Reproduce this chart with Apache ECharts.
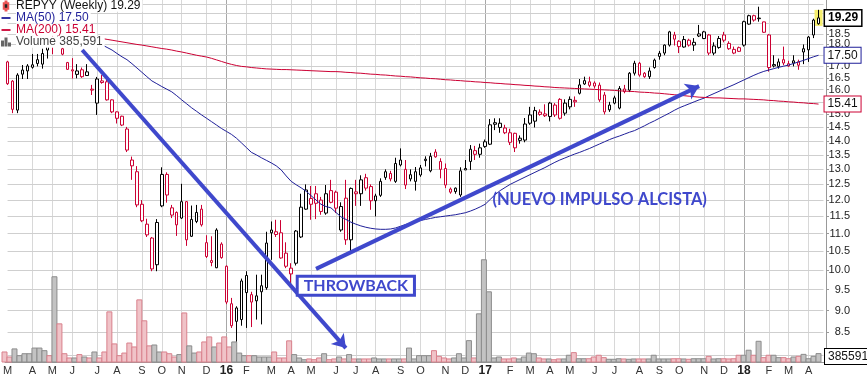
<!DOCTYPE html>
<html>
<head>
<meta charset="utf-8">
<script src="https://cdn.jsdelivr.net/npm/echarts@6/dist/echarts.min.js"></script>
<style>
html, body { margin: 0; padding: 0; background: #fff; }
#main { width: 867px; height: 378px; }
</style>
</head>
<body>
<div id="main"></div>
<script>
// weekly bars, first week starts Monday 2015-03-02
var firstWeek = '2015-03-02';

var opens = [
  17.20, 16.36, 15.17, 16.84, 16.80, 16.96, 17.13, 17.10, 17.74, 18.08,
  18.00, 17.80, 17.17, 16.85, 16.65, 16.85, 16.76, 16.02, 15.45, 16.30,
  16.33, 15.58, 15.10, 14.93, 14.44, 13.12, 12.92, 11.87, 11.27, 10.87,
  10.14, 11.82, 12.83, 11.76, 11.62, 11.45, 11.95, 10.92, 11.35, 11.72,
  10.74, 10.25, 10.06, 10.70, 10.10, 9.16, 8.75, 8.79, 9.43, 9.38,
  9.35, 9.45, 9.55, 11.02, 10.97, 11.02, 10.45, 10.05, 10.18, 10.90,
  11.72, 11.87, 12.20, 12.00, 11.60, 12.30, 12.25, 11.10, 12.06, 10.82,
  12.20, 12.20, 12.72, 12.43, 11.98, 12.15, 12.73, 12.86, 12.60, 13.15,
  13.00, 12.68, 12.60, 12.81, 13.35, 12.95, 13.60, 13.27, 13.03, 12.35,
  12.38, 12.16, 13.03, 13.27, 13.52, 13.52, 13.80, 13.88, 14.68, 14.50,
  14.30, 14.30, 14.28, 14.10, 14.03, 14.66, 14.74, 15.09, 15.02, 14.92,
  15.37, 15.60, 15.05, 15.30, 15.50, 15.85, 16.38, 16.33, 16.28, 16.19,
  15.78, 15.18, 15.66, 15.25, 16.03, 15.98, 16.70, 17.14, 16.70, 16.55,
  16.95, 17.59, 17.60, 17.97, 18.45, 18.15, 17.88, 18.20, 17.97, 18.50,
  18.28, 18.45, 17.60, 17.86, 18.45, 18.05, 17.60, 17.85, 17.97, 18.98,
  19.40, 19.28, 19.09, 18.45, 17.08, 17.00, 17.30, 17.02, 17.25, 17.20,
  17.80, 17.75, 18.45, 19.00
];
var closes = [
  16.25, 15.20, 16.62, 16.66, 17.02, 17.07, 17.30, 17.58, 18.05, 18.00,
  18.20, 17.55, 16.87, 16.80, 16.80, 16.55, 16.60, 15.98, 16.45, 16.37,
  15.58, 15.10, 14.85, 14.59, 13.67, 13.32, 11.85, 11.37, 10.96, 10.03,
  11.32, 12.83, 12.16, 11.54, 11.25, 11.95, 10.82, 11.41, 11.62, 11.25,
  10.36, 10.20, 11.10, 10.33, 9.20, 8.65, 9.06, 9.72, 9.86, 9.20,
  9.23, 9.60, 10.73, 11.10, 11.05, 10.32, 10.10, 9.90, 11.07, 11.78,
  12.32, 12.05, 11.90, 11.65, 12.20, 11.93, 11.75, 11.80, 10.82, 12.37,
  12.26, 12.65, 12.38, 11.98, 12.13, 12.60, 12.92, 12.68, 13.20, 13.32,
  12.48, 12.82, 12.92, 13.05, 13.30, 13.45, 13.43, 13.00, 12.48, 12.25,
  12.27, 12.95, 12.98, 13.70, 13.65, 13.75, 13.97, 14.60, 14.62, 14.66,
  14.48, 13.95, 13.75, 14.02, 14.63, 14.98, 15.15, 15.00, 14.95, 15.45,
  14.98, 14.85, 15.45, 15.60, 15.56, 16.20, 16.24, 16.18, 16.15, 15.58,
  15.10, 15.37, 15.45, 16.05, 15.92, 16.70, 17.14, 16.62, 16.55, 16.80,
  17.28, 17.45, 17.97, 18.60, 18.25, 17.90, 18.23, 17.97, 18.10, 18.40,
  18.60, 17.60, 17.93, 18.28, 18.20, 17.80, 17.77, 17.68, 19.10, 19.40,
  19.18, 19.25, 18.58, 16.95, 17.02, 17.20, 17.15, 17.12, 17.15, 17.05,
  17.65, 18.35, 19.18, 19.29
];
var lows = [
  16.20, 15.05, 15.05, 16.45, 16.45, 16.90, 17.00, 16.90, 17.35, 17.55,
  17.90, 17.50, 16.85, 16.47, 16.48, 16.50, 16.58, 15.78, 14.98, 16.25,
  15.55, 15.05, 14.65, 14.55, 13.60, 12.65, 11.78, 11.33, 10.90, 9.97,
  9.97, 11.78, 11.92, 11.45, 10.93, 11.42, 10.65, 10.90, 11.30, 11.20,
  10.32, 10.10, 10.05, 10.30, 9.15, 8.60, 8.30, 8.65, 8.60, 8.62,
  8.79, 8.68, 9.50, 10.27, 10.90, 10.30, 10.05, 9.66, 10.12, 10.87,
  11.70, 11.40, 11.42, 11.55, 11.55, 11.90, 11.60, 11.05, 10.68, 10.50,
  11.82, 11.82, 12.30, 11.70, 11.50, 12.10, 12.65, 12.60, 12.55, 13.10,
  12.35, 12.60, 12.30, 12.75, 13.10, 12.90, 13.40, 12.70, 12.38, 12.20,
  12.20, 12.10, 12.98, 12.98, 13.32, 13.40, 13.75, 13.85, 14.40, 14.30,
  14.25, 13.85, 13.60, 13.90, 13.95, 14.60, 14.50, 14.95, 14.90, 14.73,
  14.90, 14.80, 14.95, 15.20, 15.30, 15.80, 16.20, 16.10, 16.05, 15.50,
  15.00, 15.10, 15.40, 15.20, 15.85, 15.90, 16.60, 16.55, 16.50, 16.45,
  16.90, 17.30, 17.50, 17.90, 17.95, 17.60, 17.85, 17.90, 17.70, 18.35,
  18.25, 17.50, 17.50, 17.80, 18.10, 17.75, 17.55, 17.65, 17.90, 18.95,
  19.10, 19.10, 18.55, 16.77, 16.95, 16.90, 17.05, 16.98, 17.00, 16.85,
  17.10, 17.20, 18.30, 18.95
];
var highs = [
  17.25, 16.40, 16.70, 17.06, 17.10, 17.56, 17.56, 17.80, 18.20, 18.40,
  18.45, 17.85, 17.20, 17.37, 17.10, 16.95, 17.10, 16.20, 16.54, 16.62,
  16.45, 15.60, 15.12, 14.95, 14.52, 13.44, 13.11, 12.00, 11.43, 10.90,
  11.42, 13.07, 12.90, 11.85, 11.65, 12.52, 11.97, 11.83, 11.85, 11.85,
  10.95, 10.92, 11.15, 10.75, 10.12, 9.30, 9.10, 9.78, 9.97, 9.45,
  9.88, 9.88, 11.05, 11.35, 11.40, 11.39, 10.75, 10.18, 11.10, 12.20,
  12.50, 12.45, 12.45, 12.10, 12.48, 12.65, 12.30, 11.93, 12.65, 12.40,
  12.65, 12.80, 12.85, 12.50, 12.20, 12.70, 13.00, 12.95, 13.40, 13.73,
  13.32, 13.00, 13.08, 13.15, 13.45, 13.57, 13.70, 13.38, 13.20, 12.40,
  12.40, 13.07, 13.32, 13.85, 13.82, 13.90, 14.05, 14.82, 14.85, 14.85,
  14.60, 14.45, 14.30, 14.20, 14.86, 15.30, 15.30, 15.20, 15.40, 15.50,
  15.45, 15.65, 15.60, 15.72, 15.72, 16.45, 16.55, 16.55, 16.35, 16.30,
  15.90, 15.50, 15.75, 16.15, 16.20, 16.75, 17.25, 17.20, 16.75, 16.95,
  17.35, 17.70, 18.00, 18.65, 18.60, 18.20, 18.40, 18.27, 18.30, 18.94,
  18.65, 18.50, 18.10, 18.40, 18.60, 18.15, 17.90, 17.90, 19.15, 19.45,
  19.45, 19.86, 19.10, 18.50, 17.50, 17.35, 17.90, 17.25, 17.50, 17.30,
  18.00, 18.40, 19.25, 19.70
];
var volumes = [
  460000, 230000, 600000, 290000, 380000, 380000, 640000, 640000, 520000, 290000,
  3910000, 1750000, 380000, 185000, 185000, 340000, 230000, 185000, 460000, 185000,
  460000, 2300000, 830000, 290000, 410000, 870000, 690000, 2850000, 1890000, 740000,
  780000, 460000, 460000, 380000, 230000, 340000, 2250000, 740000, 410000, 460000,
  920000, 1150000, 690000, 870000, 1150000, 690000, 920000, 410000, 290000, 290000,
  290000, 230000, 230000, 230000, 460000, 185000, 185000, 970000, 340000, 185000,
  105000, 140000, 105000, 185000, 380000, 105000, 140000, 230000, 140000, 340000,
  140000, 140000, 140000, 140000, 185000, 140000, 140000, 140000, 140000, 140000,
  140000, 640000, 140000, 290000, 290000, 290000, 520000, 260000, 185000, 140000,
  185000, 380000, 185000, 980000, 185000, 2210000, 4690000, 3220000, 185000, 230000,
  140000, 140000, 185000, 140000, 230000, 410000, 380000, 185000, 140000, 140000,
  105000, 140000, 140000, 310000, 430000, 150000, 150000, 150000, 230000, 310000,
  200000, 125000, 125000, 150000, 140000, 125000, 140000, 140000, 140000, 140000,
  310000, 140000, 140000, 140000, 150000, 150000, 140000, 125000, 150000, 150000,
  150000, 260000, 140000, 150000, 150000, 140000, 150000, 310000, 310000, 540000,
  310000, 950000, 200000, 310000, 310000, 200000, 200000, 150000, 230000, 260000,
  350000, 150000, 260000, 385591
];
var ma50 = [
  null, null, null, null, null, null, null, null, null, null, null, null, null, null, null, null,
  18.35, 18.23, 18.11, 17.98, 17.86, 17.74, 17.58, 17.43, 17.30, 17.12,
  16.93, 16.74, 16.55, 16.37, 16.25, 16.13, 16.02, 15.91, 15.75, 15.58,
  15.42, 15.26, 15.12, 14.98, 14.85, 14.72, 14.59, 14.46, 14.35, 14.24,
  14.10, 13.93, 13.76, 13.59, 13.50, 13.40, 13.31, 13.22, 13.12, 12.98,
  12.78, 12.60, 12.49, 12.39, 12.28, 12.14, 12.00, 11.87, 11.80, 11.76,
  11.62, 11.49, 11.41, 11.33, 11.27, 11.22, 11.18, 11.15, 11.13, 11.12,
  11.12, 11.13, 11.16, 11.21, 11.26, 11.30, 11.34, 11.38, 11.41, 11.44,
  11.47, 11.49, 11.51, 11.53, 11.55, 11.58, 11.61, 11.66, 11.72, 11.79,
  11.87, 12.02, 12.17, 12.30, 12.40, 12.50, 12.58, 12.66, 12.74, 12.82,
  12.90, 12.98, 13.06, 13.15, 13.24, 13.32, 13.39, 13.46, 13.53, 13.59,
  13.66, 13.73, 13.81, 13.89, 13.97, 14.05, 14.12, 14.18, 14.25, 14.32,
  14.38, 14.47, 14.56, 14.66, 14.75, 14.85, 14.95, 15.05, 15.16, 15.26,
  15.34, 15.42, 15.50, 15.58, 15.65, 15.75, 15.84, 15.93, 16.03, 16.12,
  16.21, 16.31, 16.41, 16.51, 16.61, 16.70, 16.78, 16.84, 16.90, 16.96,
  17.01, 17.06, 17.13, 17.20, 17.27, 17.35, 17.43, 17.50
];
var ma200 = [
  null, null, null, null, null, null, null, null, null, null, null, null, null, null, null, null,
  18.40, 18.36, 18.32, 18.28, 18.24, 18.20, 18.16, 18.12, 18.08, 18.04,
  18.00, 17.97, 17.93, 17.89, 17.85, 17.81, 17.78, 17.74, 17.69, 17.65,
  17.60, 17.55, 17.50, 17.46, 17.42, 17.36, 17.29, 17.22, 17.15, 17.09,
  17.04, 17.00, 16.98, 16.95, 16.93, 16.91, 16.89, 16.88, 16.87, 16.86,
  16.86, 16.85, 16.84, 16.83, 16.82, 16.81, 16.80, 16.79, 16.78, 16.77,
  16.77, 16.76, 16.74, 16.73, 16.71, 16.70, 16.68, 16.66, 16.65, 16.63,
  16.62, 16.60, 16.58, 16.57, 16.55, 16.54, 16.52, 16.50, 16.49, 16.47,
  16.46, 16.44, 16.42, 16.41, 16.39, 16.38, 16.36, 16.35, 16.33, 16.32,
  16.30, 16.29, 16.27, 16.26, 16.24, 16.23, 16.21, 16.20, 16.18, 16.17,
  16.15, 16.14, 16.12, 16.11, 16.09, 16.08, 16.07, 16.06, 16.05, 16.04,
  16.03, 16.02, 16.01, 16.00, 15.99, 15.98, 15.97, 15.95, 15.94, 15.93,
  15.92, 15.90, 15.89, 15.88, 15.86, 15.85, 15.83, 15.81, 15.79, 15.77,
  15.75, 15.73, 15.71, 15.69, 15.68, 15.67, 15.66, 15.66, 15.65, 15.64,
  15.63, 15.62, 15.62, 15.61, 15.60, 15.59, 15.58, 15.56, 15.55, 15.53,
  15.52, 15.50, 15.49, 15.47, 15.46, 15.44, 15.43, 15.41
];
var priceTicks = [8.0, 8.5, 9.0, 9.5, 10.0, 10.5, 11.0, 11.5, 12.0, 12.5, 13.0, 13.5,
  14.0, 14.5, 15.0, 15.5, 16.0, 16.5, 17.0, 17.5, 18.0, 18.5, 19.0, 19.5, 20.0];
var monthLetters = ['J', 'F', 'M', 'A', 'M', 'J', 'J', 'A', 'S', 'O', 'N', 'D'];

// hand drawn notes: [week index, price]
var downArrow = [[15, 17.74], [68, 8.16]];
var upArrow = [[62, 10.03], [139, 16.15]];
var throwbackNote = [70, 9.6];
var impulseNote = [119, 12.0];

var priceMin = 7.87, priceMax = 20.21;
var plotLeft = 2, plotRight = 41;

var dates = [];
var t0 = Date.parse(firstWeek + 'T00:00:00Z');
for (var i = 0; i <= opens.length; i++) {   // one empty slot after last bar
  dates.push(new Date(t0 + i * 7 * 86400000).toISOString().slice(0, 10));
}
function monthStart(i) {
  if (i >= opens.length) return false;
  if (i === 0) return true;
  return dates[i].slice(5, 7) !== dates[i - 1].slice(5, 7);
}

var RED = '#cc0033', BLACK = '#000000', NOTE = '#3f48cc', NAVY = '#1f1f99';
var last = opens.length - 1;

var candleData = opens.map(function (o, i) {
  var c = closes[i];
  var prev = i ? closes[i - 1] : o;
  var col = c >= prev ? BLACK : RED;
  return {
    value: [o, c, lows[i], highs[i]],
    itemStyle: { color: '#fff', color0: col, borderColor: col, borderColor0: col }
  };
});
var volData = volumes.map(function (v, i) {
  var up = i ? closes[i] >= closes[i - 1] : closes[i] >= opens[i];
  return {
    value: v,
    itemStyle: up ? { color: '#c3c3c3', borderColor: '#8c8c8c' }
                  : { color: '#f0c3c8', borderColor: '#d9808c' }
  };
});

// month / year grid lines
var gridLines = [];
for (var k = 1; k < opens.length; k++) {
  if (monthStart(k)) {
    var jan = dates[k].slice(5, 7) === '01';
    gridLines.push({ xAxis: dates[k], lineStyle: { color: jan ? '#a8a8a8' : '#d8d8d8', width: 1, type: 'solid' } });
  }
}
// price grid lines across the whole plot, one per tick label
var priceLines = priceTicks.map(function (p) {
  return [{ coord: [dates[0], p] }, { coord: [dates[dates.length - 1], p] }];
});

var nameMain = 'REPYY (Weekly) ' + closes[last].toFixed(2);
var name50 = 'MA(50) ' + ma50[last].toFixed(2);
var name200 = 'MA(200) ' + ma200[last].toFixed(2);
var nameVol = 'Volume ' + volumes[last].toLocaleString('en-US');

var tagBase = {
  show: true, position: 'right', distance: 6, fontSize: 12, fontFamily: 'Liberation Sans',
  color: '#111', backgroundColor: '#fff', borderWidth: 1, padding: [2, 3, 1, 3]
};
function tag(extra) { return Object.assign({}, tagBase, extra); }

var chart = echarts.init(document.getElementById('main'));
var option = {
  animation: false,
  backgroundColor: '#fff',
  grid: [
    { left: plotLeft, right: plotRight, top: 0, bottom: 16 },
    { left: plotLeft, right: plotRight, top: 253, bottom: 16 }
  ],
  legend: {
    orient: 'vertical', left: 1, top: 0, itemGap: 0, padding: 0, z: 8,
    itemWidth: 10, itemHeight: 9, selectedMode: false,
    textStyle: { fontFamily: 'Liberation Sans', fontSize: 12, lineHeight: 11.5,
      backgroundColor: '#fff', padding: [0, 2, 0, 0] },
    data: [
      { name: nameMain, icon: 'path://M4,0H5V2H7V8H5V10H4V8H2V2H4Z', itemStyle: { color: '#222' }, textStyle: { color: '#111' } },
      { name: name50, icon: 'path://M0,0L0,0M0,4H10V6H0ZM10,10L10,10', itemStyle: { color: NAVY }, textStyle: { color: NAVY } },
      { name: name200, icon: 'path://M0,0L0,0M0,4H10V6H0ZM10,10L10,10', itemStyle: { color: RED }, textStyle: { color: RED } },
      { name: nameVol, icon: 'path://M0,10V4H3V10ZM3.5,10V1H6.5V10ZM7,10V6H10V10Z', itemStyle: { color: '#666' }, textStyle: { color: '#444' } }
    ]
  },
  xAxis: [
    {
      type: 'category', gridIndex: 0, data: dates, boundaryGap: true,
      axisLine: { lineStyle: { color: '#999' } },
      axisTick: { show: false },
      splitLine: { show: false },
      axisLabel: {
        interval: function (idx) { return monthStart(idx); },
        formatter: function (v) {
          var m = +v.slice(5, 7);
          return m === 1 ? '{y|' + v.slice(2, 4) + '}' : monthLetters[m - 1];
        },
        margin: 3, color: '#333', fontSize: 11, fontFamily: 'Liberation Sans',
        rich: { y: { fontWeight: 'bold', fontSize: 12, color: '#222', fontFamily: 'Liberation Sans' } }
      }
    },
    { type: 'category', gridIndex: 1, data: dates, boundaryGap: true, show: false }
  ],
  yAxis: [
    {
      type: 'log', logBase: 10, gridIndex: 0, min: priceMin, max: priceMax, position: 'right',
      axisLine: { show: true, lineStyle: { color: '#999' } },
      axisTick: { show: true, length: 3, customValues: priceTicks, lineStyle: { color: '#999' } },
      axisLabel: {
        customValues: priceTicks,
        formatter: function (v) { return v.toFixed(1); },
        align: 'right', margin: 24, color: '#222', fontSize: 11, fontFamily: 'Liberation Sans'
      },
      splitLine: { show: false }
    },
    { type: 'value', gridIndex: 1, min: 0, max: 5000000, show: false, splitLine: { show: false } }
  ],
  series: [
    {
      name: 'grid', type: 'line', xAxisIndex: 0, yAxisIndex: 0, data: [], z: 1,
      markLine: { silent: true, z: 1, symbol: 'none', label: { show: false }, data: gridLines },
      markPoint: {
        silent: true, z: 1,
        data: [{ coord: [dates[last], closes[last]], symbol: 'rect', symbolSize: [8, 16],
          itemStyle: { color: '#f6ef6e' }, label: { show: false } }]
      }
    },
    {
      name: 'priceGrid', type: 'line', xAxisIndex: 0, yAxisIndex: 0, data: [], z: 1,
      markLine: { silent: true, z: 1, symbol: ['none', 'none'], label: { show: false },
        lineStyle: { color: '#cfcfcf', width: 1, type: 'solid' }, data: priceLines }
    },
    {
      name: nameVol, type: 'bar', xAxisIndex: 1, yAxisIndex: 1, data: volData,
      barCategoryGap: '0%', z: 2,
      markPoint: {
        silent: true, z: 7,
        data: [{ coord: [dates[last], volumes[last]], symbol: 'rect', symbolSize: 1,
          itemStyle: { color: 'rgba(0,0,0,0)' },
          label: tag({ formatter: String(volumes[last]), borderColor: '#000', offset: [0, 3] }) }]
      }
    },
    {
      name: nameMain, type: 'candlestick', xAxisIndex: 0, yAxisIndex: 0, data: candleData,
      barWidth: 3, z: 3,
      markPoint: {
        silent: true, z: 7,
        data: [{ coord: [dates[last], closes[last]], symbol: 'rect', symbolSize: 1,
          itemStyle: { color: 'rgba(0,0,0,0)' },
          label: tag({ formatter: closes[last].toFixed(2), fontWeight: 'bold', color: '#000', borderColor: '#000', borderWidth: 1.5 }) }]
      }
    },
    {
      name: name50, type: 'line', xAxisIndex: 0, yAxisIndex: 0, data: ma50, z: 4,
      symbol: 'none', lineStyle: { color: NAVY, width: 1 }, itemStyle: { color: NAVY },
      endLabel: tag({ formatter: function (p) { return (+p.value).toFixed(2); }, borderColor: NAVY })
    },
    {
      name: name200, type: 'line', xAxisIndex: 0, yAxisIndex: 0, data: ma200, z: 4,
      symbol: 'none', lineStyle: { color: RED, width: 1 }, itemStyle: { color: RED },
      endLabel: tag({ formatter: function (p) { return (+p.value).toFixed(2); }, borderColor: RED })
    },
    {
      name: 'notes', type: 'line', xAxisIndex: 0, yAxisIndex: 0, data: [], z: 6,
      markLine: {
        silent: true, z: 6, symbol: ['none', 'arrow'], symbolSize: 13, label: { show: false },
        lineStyle: { color: NOTE, width: 4, type: 'solid' },
        data: [
          [{ coord: [dates[downArrow[0][0]], downArrow[0][1]] }, { coord: [dates[downArrow[1][0]], downArrow[1][1]] }],
          [{ coord: [dates[upArrow[0][0]], upArrow[0][1]] }, { coord: [dates[upArrow[1][0]], upArrow[1][1]] }]
        ]
      },
      markPoint: {
        silent: true, z: 6,
        data: [
          { coord: [dates[throwbackNote[0]], throwbackNote[1]], symbol: 'rect', symbolSize: 0,
            itemStyle: { color: 'rgba(0,0,0,0)' },
            label: { show: true, position: 'inside', formatter: 'THROWBACK', color: NOTE,
              backgroundColor: '#fff', borderColor: NOTE, borderWidth: 3, padding: [1, 5, 0, 5],
              fontFamily: 'Lato', fontWeight: 'bold', fontSize: 16, lineHeight: 15 } },
          { coord: [dates[impulseNote[0]], impulseNote[1]], symbol: 'rect', symbolSize: 0,
            itemStyle: { color: 'rgba(0,0,0,0)' },
            label: { show: true, position: 'inside', formatter: '(NUEVO IMPULSO ALCISTA)', color: NOTE,
              fontFamily: 'Lato', fontWeight: 'bold', fontSize: 16.5 } }
        ]
      }
    }
  ]
};
chart.setOption(option);
window.addEventListener('resize', function () { chart.resize(); });
</script>
</body>
</html>
